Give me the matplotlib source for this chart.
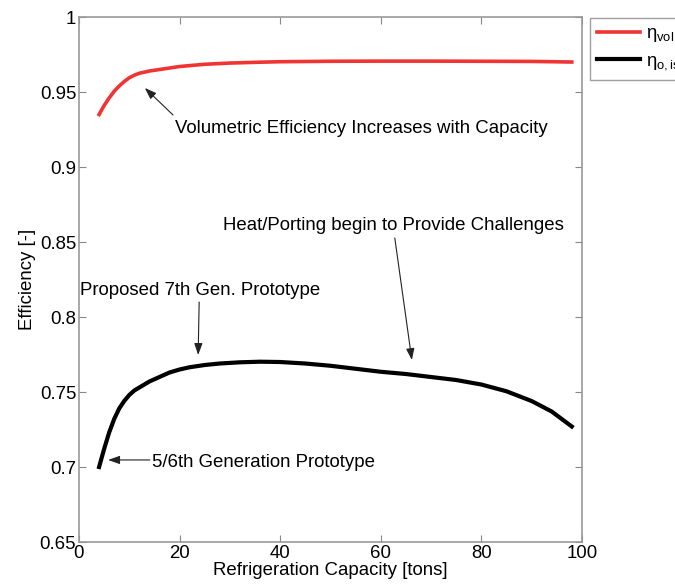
import numpy as np
import matplotlib
matplotlib.use("Agg")
import matplotlib.pyplot as plt

plt.rcParams["font.family"] = ["Liberation Sans", "DejaVu Sans"]
plt.rcParams["mathtext.fontset"] = "custom"
plt.rcParams["mathtext.rm"] = "Liberation Sans"
plt.rcParams["mathtext.it"] = "Liberation Sans"

# volumetric efficiency vs capacity
cap_vol = [4, 5, 6, 7, 8, 9, 10, 11, 12, 14, 16, 18, 20, 25, 30, 35, 40, 50, 60,
           70, 80, 90, 98]
eta_vol = [0.935, 0.941, 0.946, 0.9505, 0.954, 0.957, 0.9595, 0.9612, 0.9625,
           0.964, 0.965, 0.966, 0.967, 0.9685, 0.9693, 0.9698, 0.9702, 0.9705,
           0.9706, 0.9706, 0.9705, 0.9704, 0.970]

# overall isentropic efficiency vs capacity
cap_is = [4, 5, 6, 7, 8, 9, 10, 11, 12, 14, 16, 18, 20, 22, 25, 28, 32, 36, 40,
          45, 50, 55, 60, 65, 70, 75, 80, 85, 90, 94, 98]
eta_is = [0.700, 0.712, 0.723, 0.732, 0.739, 0.744, 0.748, 0.751, 0.753, 0.757,
          0.760, 0.763, 0.765, 0.7665, 0.768, 0.769, 0.7698, 0.7702, 0.7700,
          0.769, 0.7675, 0.7655, 0.7635, 0.762, 0.760, 0.758, 0.755, 0.7505,
          0.744, 0.737, 0.727]

x_ticks = [0, 20, 40, 60, 80, 100]
y_ticks = [0.65, 0.7, 0.75, 0.8, 0.85, 0.9, 0.95, 1]
y_ticklabels = ["0.65", "0.7", "0.75", "0.8", "0.85", "0.9", "0.95", "1"]

FS = 13.4
fig = plt.figure(figsize=(6.75, 5.85), dpi=100)
ax = fig.add_axes([0.117, 0.0735, 0.745, 0.8974])

ax.plot(cap_vol, eta_vol, color="#f03434", lw=2.6, solid_joinstyle="round",
        label=r"$\eta_{vol}$")
ax.plot(cap_is, eta_is, color="black", lw=3.0, solid_joinstyle="round",
        label=r"$\eta_{o,is}$")

ax.set_xlim(0, 100)
ax.set_ylim(0.65, 1)
ax.set_xticks(x_ticks)
ax.set_yticks(y_ticks)
ax.set_yticklabels(y_ticklabels)
ax.tick_params(direction="in", top=True, right=True, length=5, width=0.8,
               color="#888888", labelsize=FS, pad=2)
for s in ax.spines.values():
    s.set_color("#999999")
    s.set_linewidth(1.2)
ax.set_xlabel("Refrigeration Capacity [tons]", fontsize=FS, labelpad=0)
ax.set_ylabel("Efficiency [-]", fontsize=FS, labelpad=3)

arrow = dict(arrowstyle="-|>,head_length=0.7,head_width=0.25", color="#222222",
             lw=0.8, shrinkA=0, shrinkB=0)

ax.annotate("", xy=(13.1, 0.9527), xytext=(18.7, 0.9347), arrowprops=arrow)
ax.text(19.1, 0.926, "Volumetric Efficiency Increases with Capacity",
        fontsize=FS, ha="left", va="center")

ax.annotate("", xy=(66.2, 0.7713), xytext=(62.8, 0.8527), arrowprops=arrow)
ax.text(62.6, 0.8607, "Heat/Porting begin to Provide Challenges",
        fontsize=FS, ha="center", va="center")

ax.annotate("", xy=(23.7, 0.7747), xytext=(23.9, 0.810), arrowprops=arrow)
ax.text(24.1, 0.818, "Proposed 7th Gen. Prototype",
        fontsize=FS, ha="center", va="center")

ax.annotate("", xy=(5.8, 0.7047), xytext=(14.1, 0.7047), arrowprops=arrow)
ax.text(14.5, 0.7033, "5/6th Generation Prototype",
        fontsize=FS, ha="left", va="center")

leg = fig.legend(loc="upper left", bbox_to_anchor=(590 / 675, 1 - 18 / 585),
                 fontsize=FS, frameon=True, fancybox=False, handlelength=2.3,
                 handletextpad=0.3, borderpad=0.4, borderaxespad=0,
                 labelspacing=0.45)
leg.get_frame().set_edgecolor("#888888")
leg.get_frame().set_linewidth(1.0)

fig.savefig("out.png", dpi=100)
